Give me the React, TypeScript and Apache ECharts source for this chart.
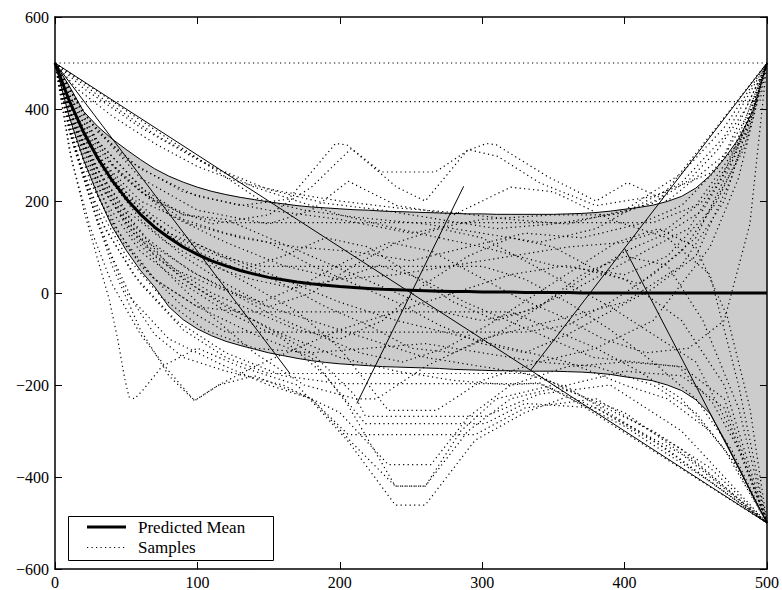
import React, { useEffect, useRef } from "react";
import * as echarts from "echarts";

const X_TICKS = [0, 100, 200, 300, 400, 500];
const Y_TICKS = [-600, -400, -200, 0, 200, 400, 600];

const BAND_X = [0,10,20,30,40,50,60,70,80,90,100,110,120,130,140,150,160,170,180,190,200,210,220,230,240,250,260,270,280,290,300,310,320,330,340,350,360,370,380,390,400,410,420,430,440,450,460,470,480,490,500];
const MEAN = [500,418,350,293,245,205,171,143,120,100,84,70,59,49,41,34,29,24,20,17,14,12,10,8,7,6,5,4,3,3,2,2,2,1,1,1,1,0,0,0,0,0,0,0,0,0,0,0,0,0,0];
const UPPER = [500,450,395,362,335,312,290,270,254,241,230,221,214,208,203,198,194,190,187,185,183,181,180,178,177,176,175,174,173,172,172,171,171,171,171,171,172,173,175,178,182,186,191,199,210,228,255,292,335,395,500];
const LOWER = [500,383,290,213,145,93,49,13,-30,-58,-78,-93,-105,-114,-122,-130,-136,-142,-147,-151,-154,-156,-158,-160,-161,-162,-163,-164,-166,-167,-168,-169,-169,-170,-170,-170,-171,-172,-174,-177,-182,-186,-191,-200,-212,-232,-262,-318,-378,-440,-500];

const LEGEND_LABELS = ["Predicted Mean", "Samples"];

// dense (solid-looking) sample segments
const LINE_C = [[0,500],[500,-500]];
const LINE_D = [[0,500],[165,-175]];
const LINE_E = [[212,-240],[287,232]];
const LINE_F = [[334,-168],[500,500]];
const LINE_G = [[400,97],[500,-500]];

// dotted sample paths
const s01 = [[0,500],[500,500]];
const s02 = [[0,500],[5,416],[495,416],[500,500]];
const s03 = [[0,500],[143,204],[175,180],[210,165],[260,150],[300,130],[340,110],[380,140],[400,175],[425,205],[500,500]];
const s04 = [[0,500],[30,430],[70,345],[110,275],[150,225],[190,195],[230,180],[270,160],[310,140],[350,150],[400,175],[440,240],[470,340],[500,500]];
const s05 = [[0,500],[20,445],[60,360],[100,290],[140,230],[170,200],[200,170],[240,140],[300,100],[350,60],[400,40],[430,80],[460,180],[485,320],[500,500]];
const s06 = [[0,500],[15,445],[40,385],[70,325],[100,275],[130,240],[160,220],[200,200],[240,185],[280,175],[320,160],[360,150],[400,180],[440,260],[470,360],[500,500]];
const s07 = [[0,500],[20,390],[50,290],[90,220],[130,190],[164,204],[197,325],[205,322],[229,263],[267,263],[290,310],[303,325],[310,322],[346,253],[380,200],[402,240],[430,200],[470,300],[500,500]];
const s08 = [[0,500],[30,330],[70,200],[110,150],[150,170],[180,230],[208,314],[240,230],[260,200],[290,312],[311,297],[340,240],[380,190],[420,210],[460,260],[485,340],[500,500]];
const s09 = [[0,500],[25,370],[60,250],[100,180],[150,150],[180,180],[206,243],[240,190],[280,170],[320,230],[350,220],[390,160],[430,120],[460,40],[480,-200],[500,-500]];
const s10 = [[0,500],[10,312],[21,171],[31,62],[38,-13],[44,-100],[49,-187],[52,-226],[56,-230],[62,-210],[75,-160],[100,-120],[130,-160],[170,-200],[206,-323],[239,-461],[260,-461],[295,-320],[330,-260],[360,-225],[500,-500]];
const s11 = [[0,500],[20,250],[40,60],[60,-80],[80,-180],[98,-234],[115,-200],[140,-180],[180,-230],[210,-330],[239,-420],[260,-420],[290,-300],[320,-230],[360,-200],[400,-170],[440,-180],[470,-250],[500,-500]];
const s12 = [[0,500],[12,330],[25,200],[40,80],[55,-20],[70,-90],[90,-140],[120,-170],[160,-200],[200,-260],[234,-373],[264,-373],[290,-270],[320,-200],[360,-160],[400,-150],[440,-160],[470,-230],[500,-500]];
const s13 = [[0,500],[10,380],[25,240],[45,120],[70,30],[100,-30],[140,-90],[180,-140],[205,-240],[239,-420],[260,-420],[285,-300],[310,-230],[350,-200],[400,-260],[450,-370],[500,-500]];
const s14 = [[0,500],[10,360],[30,150],[50,0],[80,-100],[120,-160],[150,-200],[180,-230],[206,-308],[295,-308],[330,-250],[380,-230],[440,-340],[500,-500]];
const s15 = [[0,500],[15,350],[35,200],[60,90],[90,20],[120,-40],[160,-100],[190,-180],[218,-284],[302,-284],[330,-240],[380,-250],[440,-350],[500,-500]];
const s16 = [[0,500],[20,330],[45,180],[70,80],[100,10],[140,-60],[180,-130],[210,-220],[218,-268],[302,-268],[340,-220],[390,-200],[440,-300],[500,-500]];
const s17 = [[0,500],[8,420],[30,300],[60,180],[90,100],[130,30],[170,-40],[200,-120],[234,-255],[268,-255],[300,-190],[340,-150],[380,-120],[420,-60],[460,100],[480,250],[500,500]];
const s18 = [[0,500],[10,400],[30,250],[55,120],[80,40],[110,-50],[140,-130],[175,-200],[211,-230],[226,-230],[260,-160],[300,-100],[350,-60],[400,-20],[440,60],[470,200],[500,500]];
const s19 = [[0,500],[12,285],[25,140],[40,20],[60,-90],[80,-170],[98,-234],[115,-200],[140,-160],[170,-120],[200,-80],[240,-40],[280,0],[320,40],[360,60],[400,30],[440,-60],[470,-200],[500,-500]];
const s20 = [[0,500],[10,420],[25,320],[45,220],[70,140],[100,90],[130,50],[160,80],[190,120],[220,100],[250,40],[280,-20],[310,-60],[340,-30],[370,40],[400,80],[430,60],[455,-60],[480,-250],[500,-500]];
const s21 = [[0,500],[12,400],[30,270],[55,150],[80,60],[110,0],[140,-40],[170,-80],[200,-100],[230,-60],[260,20],[290,80],[320,120],[350,100],[380,50],[410,20],[440,90],[465,200],[485,330],[500,500]];
const s22 = [[0,500],[8,440],[20,370],[40,280],[65,210],[90,160],[120,130],[150,110],[180,60],[210,20],[240,-20],[270,-70],[300,-110],[330,-130],[360,-90],[390,-40],[420,10],[450,80],[475,250],[500,500]];
const s23 = [[0,500],[15,380],[35,260],[60,160],[90,80],[120,20],[150,-30],[180,0],[210,60],[240,110],[270,140],[300,120],[330,70],[360,20],[390,-30],[420,-90],[450,-150],[475,-300],[500,-500]];
const s24 = [[0,500],[10,430],[30,330],[60,230],[90,170],[120,153],[420,153],[450,190],[475,300],[500,500]];
const s25 = [[0,500],[15,330],[35,180],[60,60],[90,-30],[120,-85],[330,-85],[360,-70],[390,-20],[420,40],[450,120],[475,280],[500,500]];
const s26 = [[0,500],[10,410],[30,290],[55,190],[85,120],[115,80],[145,58],[300,58],[330,30],[360,-20],[390,-80],[420,-150],[450,-230],[475,-340],[500,-500]];
const s27 = [[0,500],[20,300],[45,130],[70,30],[100,-30],[130,-41],[320,-41],[350,-80],[380,-120],[410,-170],[440,-230],[470,-340],[500,-500]];
const s28 = [[0,500],[15,300],[35,140],[60,20],[90,-80],[120,-140],[150,-175],[330,-175],[360,-205],[420,-320],[500,-500]];
const s29 = [[0,500],[12,330],[30,170],[55,40],[85,-60],[120,-130],[160,-180],[200,-197],[340,-197],[380,-250],[430,-340],[500,-500]];
const s30 = [[0,500],[10,440],[30,350],[60,270],[100,210],[150,180],[200,160],[250,130],[300,160],[350,170],[390,170],[420,195],[445,245],[465,310],[485,400],[500,500]];
const s31 = [[0,500],[14,390],[35,280],[60,200],[95,150],[130,120],[170,100],[210,90],[250,70],[290,100],[330,130],[370,120],[410,150],[440,190],[465,270],[485,380],[500,500]];
const s32 = [[0,500],[18,380],[45,260],[80,170],[120,110],[160,60],[200,30],[240,40],[280,60],[320,80],[360,100],[400,110],[430,140],[455,200],[475,290],[490,390],[500,500]];
const s33 = [[0,500],[10,400],[30,250],[60,120],[100,40],[140,-20],[180,-60],[220,-100],[260,-140],[300,-160],[340,-180],[380,-240],[420,-300],[460,-380],[500,-500]];
const s34 = [[0,500],[8,430],[25,320],[50,210],[80,130],[120,80],[160,30],[200,-20],[240,-60],[280,-90],[320,-120],[360,-150],[400,-200],[430,-230],[460,-300],[480,-380],[500,-500]];
const s35 = [[0,500],[10,350],[28,200],[50,80],[75,-10],[105,-80],[140,-120],[180,-130],[220,-120],[260,-110],[300,-130],[340,-150],[380,-160],[420,-200],[450,-260],[475,-360],[500,-500]];
const s36 = [[0,500],[12,370],[30,240],[55,130],[85,50],[115,10],[145,-20],[175,20],[205,70],[235,110],[265,90],[295,40],[325,-10],[355,-50],[385,-100],[415,-130],[445,-120],[470,-60],[488,150],[500,500]];
const s37 = [[0,500],[9,420],[22,330],[42,240],[68,170],[98,110],[130,60],[160,20],[190,-30],[220,-70],[250,-120],[280,-130],[310,-90],[340,-30],[370,30],[400,90],[430,130],[455,180],[478,300],[500,500]];
const s38 = [[0,500],[16,350],[38,220],[64,120],[94,50],[124,0],[154,-50],[184,-90],[214,-130],[244,-150],[274,-120],[304,-70],[334,-10],[364,50],[394,110],[424,140],[450,100],[472,-50],[488,-250],[500,-500]];
const s39 = [[0,500],[11,390],[27,280],[50,180],[78,110],[108,60],[138,30],[168,10],[198,30],[228,60],[258,30],[288,-20],[318,-60],[348,-100],[378,-140],[408,-150],[438,-160],[462,-240],[482,-350],[500,-500]];
const s40 = [[0,500],[7,440],[18,370],[36,290],[60,220],[90,170],[120,160],[150,120],[180,80],[210,40],[240,0],[270,-40],[300,-60],[330,-40],[360,0],[390,50],[420,100],[445,140],[468,250],[486,370],[500,500]];
const s41 = [[0,500],[14,360],[35,220],[60,110],[90,30],[120,-30],[160,-90],[200,-140],[240,-170],[280,-190],[320,-200],[340,-195],[400,-290],[460,-410],[500,-500]];

const SAMPLES = [s01,s02,s03,s04,s05,s06,s07,s08,s09,s10,s11,s12,s13,s14,s15,s16,s17,s18,s19,s20,s21,s22,s23,s24,s25,s26,s27,s28,s29,s30,s31,s32,s33,s34,s35,s36,s37,s38,s39,s40,s41];
const SOLID_SAMPLES = [LINE_C, LINE_D, LINE_E, LINE_F, LINE_G];

const FONT = "Liberation Serif";

export default function App() {
  const ref = useRef<HTMLDivElement>(null);
  useEffect(() => {
    if (!ref.current) return;
    const chart = echarts.init(ref.current, null, { renderer: "svg" });
    const axisCommon = {
      type: "value" as const,
      axisLine: { show: true, onZero: false, lineStyle: { color: "#000", width: 1.5 } },
      axisTick: { show: true, inside: true, length: 7, lineStyle: { color: "#000", width: 1 } },
      splitLine: { show: false },
      z: 10,
    };
    const dotted = { color: "#000", width: 1.2, type: [1.2, 3.3] as number[] };
    const series: any[] = [
      {
        type: "line", name: "bandUpperFill", symbol: "none", silent: true,
        data: BAND_X.map((x, i) => [x, UPPER[i]]), lineStyle: { width: 0 },
        areaStyle: { color: "#cccccc", opacity: 1, origin: "start" }, z: 1,
      },
      {
        type: "line", name: "bandLowerMask", symbol: "none", silent: true,
        data: BAND_X.map((x, i) => [x, LOWER[i]]), lineStyle: { width: 0 },
        areaStyle: { color: "#ffffff", opacity: 1, origin: "start" }, z: 1,
      },
      ...SAMPLES.map((d) => ({
        type: "line", name: "Samples", symbol: "none", silent: true, data: d,
        lineStyle: dotted, z: 3,
      })),
      ...SOLID_SAMPLES.map((d) => ({
        type: "line", name: "solidSample", symbol: "none", silent: true, data: d,
        lineStyle: { color: "#000", width: 1 }, z: 3,
      })),
      {
        type: "line", name: "upperEdge", symbol: "none", silent: true,
        data: BAND_X.map((x, i) => [x, UPPER[i]]), lineStyle: { color: "#000", width: 1 }, z: 4,
      },
      {
        type: "line", name: "lowerEdge", symbol: "none", silent: true,
        data: BAND_X.map((x, i) => [x, LOWER[i]]), lineStyle: { color: "#000", width: 1 }, z: 4,
      },
      {
        type: "line", name: "Predicted Mean", symbol: "none", silent: true,
        data: BAND_X.map((x, i) => [x, MEAN[i]]), lineStyle: { color: "#000", width: 3 }, z: 5,
      },
    ];
    chart.setOption({
      animation: false,
      backgroundColor: "#fff",
      grid: { left: 55, right: 12, top: 17, bottom: 19, containLabel: false },
      graphic: {
        elements: [
          { type: "rect", z: 100, shape: { x: 68.5, y: 516.5, width: 205, height: 44 }, style: { fill: "#fff", stroke: "#000", lineWidth: 1 } },
          { type: "line", z: 101, shape: { x1: 87, y1: 527, x2: 126, y2: 527 }, style: { stroke: "#000", lineWidth: 3 } },
          { type: "line", z: 101, shape: { x1: 87, y1: 547.5, x2: 126, y2: 547.5 }, style: { stroke: "#000", lineWidth: 1.2, lineDash: [1.2, 3.3] } },
          { type: "text", z: 101, x: 138, y: 527, style: { text: LEGEND_LABELS[0], fontSize: 17, fontFamily: FONT, fill: "#000", verticalAlign: "middle" } },
          { type: "text", z: 101, x: 138, y: 547.5, style: { text: LEGEND_LABELS[1], fontSize: 17, fontFamily: FONT, fill: "#000", verticalAlign: "middle" } },
        ],
      },
      xAxis: [
        {
          ...axisCommon, position: "bottom", min: X_TICKS[0], max: X_TICKS[X_TICKS.length - 1], interval: 100,
          axisLabel: { color: "#000", fontFamily: FONT, fontSize: 16, margin: 5, showMinLabel: true, showMaxLabel: true },
        },
        {
          ...axisCommon, position: "top", min: X_TICKS[0], max: X_TICKS[X_TICKS.length - 1], interval: 100,
          axisLabel: { show: false },
        },
      ],
      yAxis: [
        {
          ...axisCommon, position: "left", min: Y_TICKS[0], max: Y_TICKS[Y_TICKS.length - 1], interval: 200,
          axisLabel: {
            color: "#000", fontFamily: FONT, fontSize: 16, margin: 6, showMinLabel: true, showMaxLabel: true,
            formatter: (v: number) => String(v).replace("-", "\u2212"),
          },
        },
        {
          ...axisCommon, position: "right", min: Y_TICKS[0], max: Y_TICKS[Y_TICKS.length - 1], interval: 200,
          axisLabel: { show: false },
        },
      ],
      series,
    });
    return () => chart.dispose();
  }, []);
  return (
    <div
      ref={ref}
      style={{ position: "fixed", left: 0, top: 0, width: 782, height: 590, background: "#fff" }}
    />
  );
}
